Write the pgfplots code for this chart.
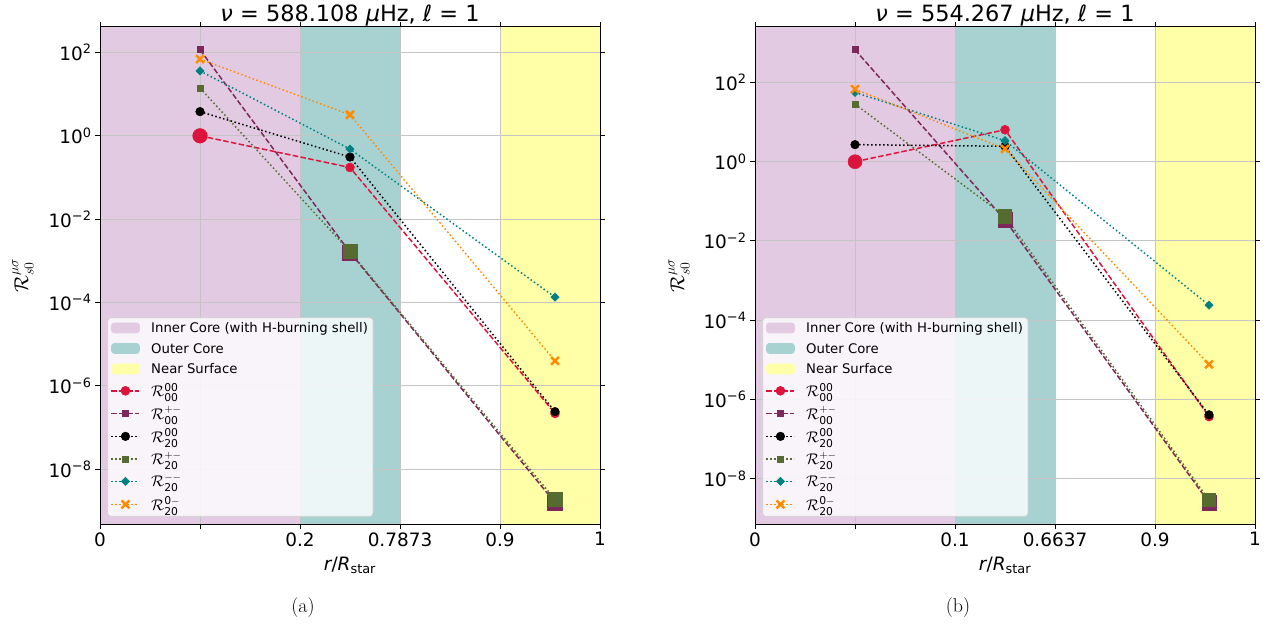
\RequirePackage{fix-cm}
\documentclass[border=0pt]{standalone}
\usepackage{pgfplots}
\pgfplotsset{compat=1.18}
\usepackage{amsmath}
\usepackage{fontspec}
\setmainfont{DejaVu Sans}

\definecolor{cpink}{RGB}{226,202,226}
\definecolor{cteal}{RGB}{168,210,210}
\definecolor{cyel}{RGB}{255,255,168}
\definecolor{ccrim}{RGB}{220,20,60}
\definecolor{cpurp}{RGB}{125,40,90}
\definecolor{colive}{RGB}{85,107,47}
\definecolor{cteal2}{RGB}{0,128,128}
\definecolor{corange}{RGB}{255,140,0}
\definecolor{gridgray}{RGB}{196,196,196}

\newcommand\tstrut{\rule[-4.7bp]{0pt}{15.5bp}}
\newcommand\mstrut{\rule[-6.2bp]{0pt}{18.5bp}}
\newcommand\mfont{\fontsize{15.5}{17}\selectfont}

\tikzset{
  sA/.style={ccrim, line width=1.5bp, dash pattern=on 5.5bp off 2.4bp, mark=*, mark size=4.5bp, mark options={solid, fill=ccrim, draw=ccrim, line width=0.5bp}},
  sB/.style={cpurp, line width=1.5bp, dash pattern=on 5.5bp off 2.4bp, mark=square*, mark size=3bp, mark options={solid, fill=cpurp, draw=cpurp, line width=0.5bp}},
  sC/.style={black, line width=1.5bp, dash pattern=on 1.5bp off 2.5bp, mark=*, mark size=4.3bp, mark options={solid, fill=black, draw=black, line width=0.5bp}},
  sD/.style={colive, line width=1.5bp, dash pattern=on 1.5bp off 2.5bp, mark=square*, mark size=3bp, mark options={solid, fill=colive, draw=colive, line width=0.5bp}},
  sE/.style={cteal2, line width=1.5bp, dash pattern=on 1.5bp off 2.5bp, mark=square*, mark size=2.9bp, mark options={solid, rotate=45, fill=cteal2, draw=cteal2, line width=0.5bp}},
  sF/.style={corange, line width=1.5bp, dash pattern=on 1.5bp off 2.5bp, mark=x, mark size=5.5bp, mark options={solid, line width=2.5bp}},
}

\begin{document}
\begin{tikzpicture}
\useasboundingbox (0,0) rectangle (1270bp,626bp);

% ---------------- panel (a): background regions
\begin{axis}[at={(100bp,102bp)}, anchor=south west, scale only axis, width=500bp, height=497bp,
  ymode=log, xmin=0, xmax=1, ymin=4.9e-10, ymax=407, hide axis]
\addplot[draw=none, fill=cpink] coordinates {(0,4.9e-10) (0.4,4.9e-10) (0.4,407) (0,407)};
\addplot[draw=none, fill=cteal] coordinates {(0.4,4.9e-10) (0.6,4.9e-10) (0.6,407) (0.4,407)};
\addplot[draw=none, fill=cyel] coordinates {(0.8,4.9e-10) (1,4.9e-10) (1,407) (0.8,407)};
\end{axis}
% ---------------- panel (a)
\begin{axis}[at={(100bp,102bp)}, anchor=south west, scale only axis, width=500bp, height=497bp,
  ymode=log, xmin=0, xmax=1, ymin=4.9e-10, ymax=407,
  xtick={0,0.2,0.4,0.6,0.8,1},
  xticklabels={0,,0.2,0.7873,0.9,1},
  ytick={1e2,1,1e-2,1e-4,1e-6,1e-8},
  yticklabels={10\textsuperscript{2},10\textsuperscript{0},10\textsuperscript{−2},10\textsuperscript{−4},10\textsuperscript{−6},10\textsuperscript{−8}},
  minor ytick={}, minor xtick={},
  grid=major, major grid style={line width=1bp, gridgray},
  tick align=outside, major tick length=5bp,
  tick style={black, line width=1bp},
  axis line style={line width=1bp},
  tick label style={font=\fontsize{18.5}{20}\selectfont},
  title={{\itshape ν} = 588.108 {\itshape μ}Hz, {\itshape ℓ} = 1},
  title style={font=\fontsize{22.5}{24}\selectfont, at={(axis description cs:0.5,1)}, anchor=base, yshift=0bp},
  xlabel={{\itshape r}/{\itshape R}\textsubscript{star}},
  xlabel style={font=\fontsize{18.5}{20}\selectfont, at={(axis description cs:0.5,-0.083)}, anchor=center},
  ylabel={$\mathcal{R}^{\mu\sigma}_{s0}$},
  ylabel style={font=\fontsize{20}{22}\selectfont, at={(axis description cs:-0.154,0.5)}, anchor=center},
  legend style={at={(0.0146,0.0147)}, anchor=south west,
    font=\fontsize{13.3}{15.5}\selectfont,
    fill=white, fill opacity=0.8, draw opacity=1, text opacity=1,
    draw=gray!35, rounded corners=3bp, line width=0.8bp,
    inner xsep=3bp, inner ysep=2bp, row sep=4.2bp,
    nodes={inner sep=2bp}},
  legend cell align=left,
  legend image code/.code={\draw[#1, fill opacity=1, draw opacity=1, mark repeat=2, mark phase=2] plot coordinates {(0bp,0bp) (14bp,0bp) (28bp,0bp)}; \path (37bp,0bp);},
]
\addlegendimage{legend image code/.code={\fill[cpink, fill opacity=1] (0bp,-5bp) rectangle (28bp,5bp); \path (37bp,0bp);}}
\addlegendentry{\tstrut Inner Core (with H-burning shell)}
\addlegendimage{legend image code/.code={\fill[cteal, fill opacity=1] (0bp,-5bp) rectangle (28bp,5bp); \path (37bp,0bp);}}
\addlegendentry{\tstrut Outer Core}
\addlegendimage{legend image code/.code={\fill[cyel, fill opacity=1] (0bp,-5bp) rectangle (28bp,5bp); \path (37bp,0bp);}}
\addlegendentry{\tstrut Near Surface}

\addplot[sA] coordinates {(0.2,1.0) (0.5,0.174) (0.91,2.2e-7)};
\addlegendentry{\mstrut\mfont$\mathcal{R}^{\text{00}}_{\text{00}}$}
\addplot[sA, only marks, forget plot, mark size=7.3bp] coordinates {(0.2,1.0)};
\addplot[sB] coordinates {(0.2,116) (0.5,1.6e-3) (0.91,1.6e-9)};
\addlegendentry{\mstrut\mfont$\mathcal{R}^{+-}_{\text{00}}$}
\addplot[sB, only marks, forget plot, mark size=7.5bp] coordinates {(0.5,1.6e-3) (0.91,1.6e-9)};
\addplot[sC] coordinates {(0.2,3.8) (0.5,0.31) (0.91,2.43e-7)};
\addlegendentry{\mstrut\mfont$\mathcal{R}^{\text{00}}_{\text{20}}$}
\addplot[sD] coordinates {(0.2,14) (0.5,1.67e-3) (0.91,1.9e-9)};
\addlegendentry{\mstrut\mfont$\mathcal{R}^{+-}_{\text{20}}$}
\addplot[sD, only marks, forget plot, mark size=7bp] coordinates {(0.5,1.67e-3) (0.91,1.9e-9)};
\addplot[sE] coordinates {(0.2,36) (0.5,0.48) (0.91,1.35e-4)};
\addlegendentry{\mstrut\mfont$\mathcal{R}^{--}_{\text{20}}$}
\addplot[sF] coordinates {(0.2,69) (0.5,3.2) (0.91,4e-6)};
\addlegendentry{\mstrut\mfont$\mathcal{R}^{\text{0}-}_{\text{20}}$}
\end{axis}

% ---------------- panel (b): background regions
\begin{axis}[at={(755bp,102bp)}, anchor=south west, scale only axis, width=500bp, height=497bp,
  ymode=log, xmin=0, xmax=1, ymin=7.2e-10, ymax=2512, hide axis]
\addplot[draw=none, fill=cpink] coordinates {(0,7.2e-10) (0.4,7.2e-10) (0.4,2512) (0,2512)};
\addplot[draw=none, fill=cteal] coordinates {(0.4,7.2e-10) (0.6,7.2e-10) (0.6,2512) (0.4,2512)};
\addplot[draw=none, fill=cyel] coordinates {(0.8,7.2e-10) (1,7.2e-10) (1,2512) (0.8,2512)};
\end{axis}
% ---------------- panel (b)
\begin{axis}[at={(755bp,102bp)}, anchor=south west, scale only axis, width=500bp, height=497bp,
  ymode=log, xmin=0, xmax=1, ymin=7.2e-10, ymax=2512,
  xtick={0,0.2,0.4,0.6,0.8,1},
  xticklabels={0,,0.1,0.6637,0.9,1},
  ytick={1e2,1,1e-2,1e-4,1e-6,1e-8},
  yticklabels={10\textsuperscript{2},10\textsuperscript{0},10\textsuperscript{−2},10\textsuperscript{−4},10\textsuperscript{−6},10\textsuperscript{−8}},
  minor ytick={}, minor xtick={},
  grid=major, major grid style={line width=1bp, gridgray},
  tick align=outside, major tick length=5bp,
  tick style={black, line width=1bp},
  axis line style={line width=1bp},
  tick label style={font=\fontsize{18.5}{20}\selectfont},
  title={{\itshape ν} = 554.267 {\itshape μ}Hz, {\itshape ℓ} = 1},
  title style={font=\fontsize{22.5}{24}\selectfont, at={(axis description cs:0.5,1)}, anchor=base, yshift=0bp},
  xlabel={{\itshape r}/{\itshape R}\textsubscript{star}},
  xlabel style={font=\fontsize{18.5}{20}\selectfont, at={(axis description cs:0.5,-0.083)}, anchor=center},
  ylabel={$\mathcal{R}^{\mu\sigma}_{s0}$},
  ylabel style={font=\fontsize{20}{22}\selectfont, at={(axis description cs:-0.152,0.5)}, anchor=center},
  legend style={at={(0.0146,0.0147)}, anchor=south west,
    font=\fontsize{13.3}{15.5}\selectfont,
    fill=white, fill opacity=0.8, draw opacity=1, text opacity=1,
    draw=gray!35, rounded corners=3bp, line width=0.8bp,
    inner xsep=3bp, inner ysep=2bp, row sep=4.2bp,
    nodes={inner sep=2bp}},
  legend cell align=left,
  legend image code/.code={\draw[#1, fill opacity=1, draw opacity=1, mark repeat=2, mark phase=2] plot coordinates {(0bp,0bp) (14bp,0bp) (28bp,0bp)}; \path (37bp,0bp);},
]
\addlegendimage{legend image code/.code={\fill[cpink, fill opacity=1] (0bp,-5bp) rectangle (28bp,5bp); \path (37bp,0bp);}}
\addlegendentry{\tstrut Inner Core (with H-burning shell)}
\addlegendimage{legend image code/.code={\fill[cteal, fill opacity=1] (0bp,-5bp) rectangle (28bp,5bp); \path (37bp,0bp);}}
\addlegendentry{\tstrut Outer Core}
\addlegendimage{legend image code/.code={\fill[cyel, fill opacity=1] (0bp,-5bp) rectangle (28bp,5bp); \path (37bp,0bp);}}
\addlegendentry{\tstrut Near Surface}

\addplot[sA] coordinates {(0.2,1.0) (0.5,6.4) (0.908,3.7e-7)};
\addlegendentry{\mstrut\mfont$\mathcal{R}^{\text{00}}_{\text{00}}$}
\addplot[sA, only marks, forget plot, mark size=7bp] coordinates {(0.2,1.0)};
\addplot[sB] coordinates {(0.2,670) (0.5,0.034) (0.908,2.5e-9)};
\addlegendentry{\mstrut\mfont$\mathcal{R}^{+-}_{\text{00}}$}
\addplot[sB, only marks, forget plot, mark size=7.2bp] coordinates {(0.5,0.034) (0.908,2.5e-9)};
\addplot[sC] coordinates {(0.2,2.7) (0.5,2.45) (0.908,4.1e-7)};
\addlegendentry{\mstrut\mfont$\mathcal{R}^{\text{00}}_{\text{20}}$}
\addplot[sD] coordinates {(0.2,28.5) (0.5,0.042) (0.908,2.9e-9)};
\addlegendentry{\mstrut\mfont$\mathcal{R}^{+-}_{\text{20}}$}
\addplot[sD, only marks, forget plot, mark size=6.7bp] coordinates {(0.5,0.042) (0.908,2.9e-9)};
\addplot[sE] coordinates {(0.2,56) (0.5,3.4) (0.908,2.4e-4)};
\addlegendentry{\mstrut\mfont$\mathcal{R}^{--}_{\text{20}}$}
\addplot[sF] coordinates {(0.2,68) (0.5,2.1) (0.908,7.7e-6)};
\addlegendentry{\mstrut\mfont$\mathcal{R}^{\text{0}-}_{\text{20}}$}
\end{axis}

\node[font=\fontfamily{lmr}\fontsize{20}{24}\selectfont] at (303bp,18bp) {(a)};
\node[font=\fontfamily{lmr}\fontsize{20}{24}\selectfont] at (958bp,18bp) {(b)};
\end{tikzpicture}
\end{document}
